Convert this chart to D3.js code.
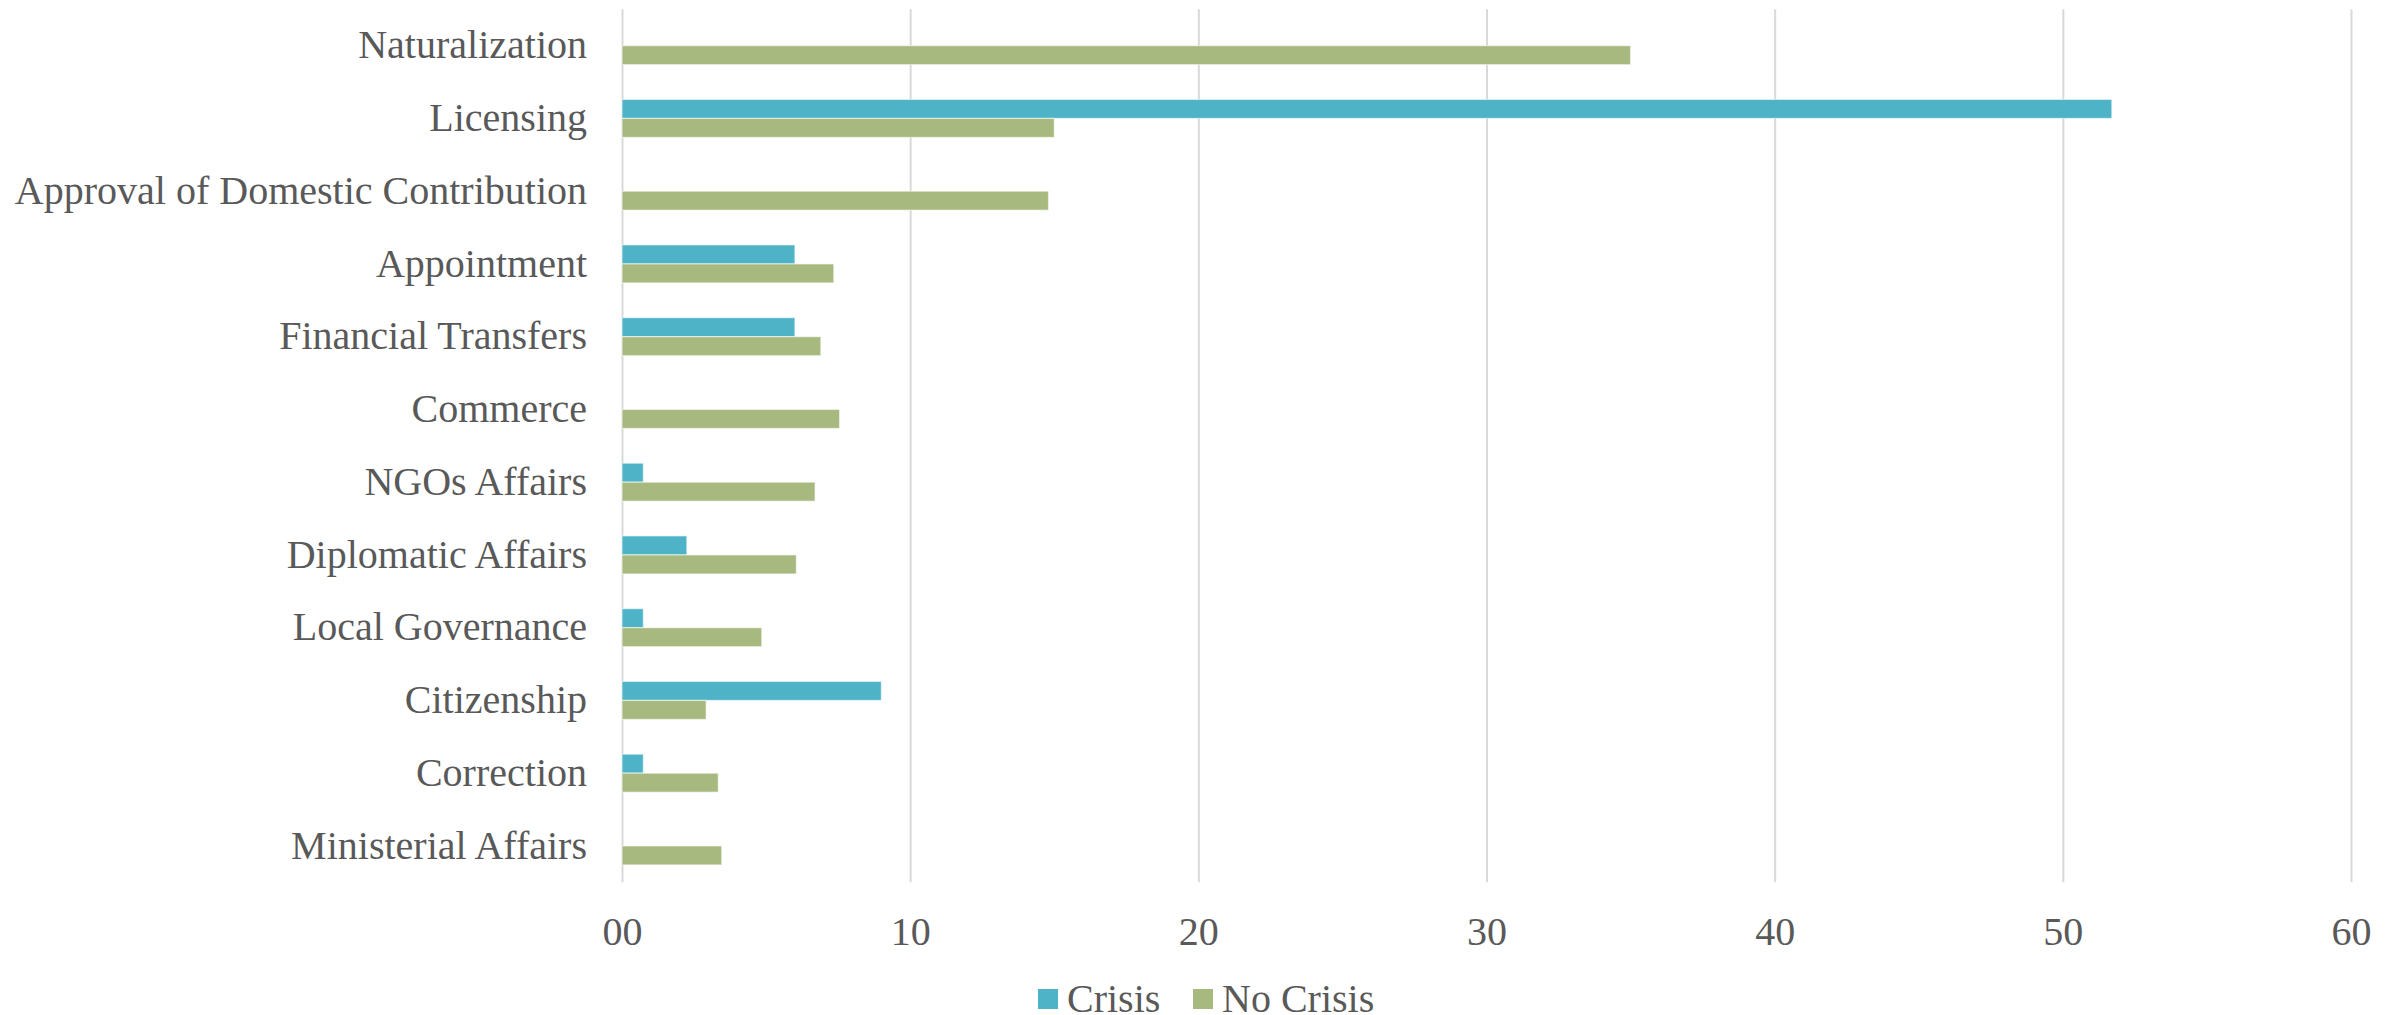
<!DOCTYPE html>
<html>
<head>
<meta charset="utf-8">
<script src="https://cdn.jsdelivr.net/npm/d3@7"></script>
<style>
  html, body { margin: 0; padding: 0; background: #ffffff; }
  svg { display: block; }
</style>
</head>
<body>
<svg id="chart" width="2396" height="1015"></svg>
<script>
const categories = [
  "Naturalization", "Licensing", "Approval of Domestic Contribution", "Appointment",
  "Financial Transfers", "Commerce", "NGOs Affairs", "Diplomatic Affairs",
  "Local Governance", "Citizenship", "Correction", "Ministerial Affairs"
];
const seriesNames = ["Crisis", "No Crisis"];
const crisisValues = [0, 51.7, 0, 6.0, 6.0, 0, 0.74, 2.25, 0.74, 9.0, 0.74, 0];
const noCrisisValues = [35.0, 15.0, 14.8, 7.35, 6.9, 7.55, 6.7, 6.05, 4.85, 2.92, 3.34, 3.46];
const tickValues = [0, 10, 20, 30, 40, 50, 60];
const tickLabels = ["00", "10", "20", "30", "40", "50", "60"];
const colors = ["#4FB3C8", "#A8B97F"];

const svg = d3.select("#chart");
const font = "'Liberation Serif', 'Times New Roman', serif";
const textColor = "#595959";

const x = d3.scaleLinear().domain([0, 60]).range([622, 2351]);
const y = d3.scaleBand().domain(categories).range([9.3, 882.3]);
const barH = 19;
const sub = d3.scaleBand().domain(seriesNames).range([0, 2 * barH]);
const color = d3.scaleOrdinal().domain(seriesNames).range(colors);

// gridlines + x tick labels
const xAxis = d3.axisBottom(x)
  .tickValues(tickValues)
  .tickFormat((d, i) => tickLabels[i])
  .tickSize(-(882.3 - 9.3))
  .tickPadding(34);
const gx = svg.append("g").attr("transform", "translate(0,882.3)").call(xAxis);
gx.select(".domain").remove();
gx.selectAll(".tick line").attr("stroke", "#d9d9d9").attr("stroke-width", 2);
gx.selectAll(".tick text")
  .attr("fill", textColor)
  .style("font-family", font)
  .style("font-size", "40px");

// y labels
const yAxis = d3.axisLeft(y).tickSize(0).tickPadding(35);
const gy = svg.append("g").attr("transform", "translate(622,0)").call(yAxis);
gy.select(".domain").remove();
gy.selectAll(".tick text")
  .attr("fill", textColor)
  .style("font-family", font)
  .style("font-size", "40px");

// bars
const rows = categories.map((c, i) => ({
  cat: c,
  vals: [
    { key: "Crisis", v: crisisValues[i] },
    { key: "No Crisis", v: noCrisisValues[i] }
  ]
}));

const groups = svg.append("g").selectAll("g.cat")
  .data(rows).join("g")
  .attr("class", "cat")
  .attr("transform", d => `translate(0,${y(d.cat) + y.bandwidth() / 2 - barH})`);

groups.selectAll("rect")
  .data(d => d.vals.filter(v => v.v > 0))
  .join("rect")
  .attr("x", x(0))
  .attr("y", d => sub(d.key))
  .attr("width", d => x(d.v) - x(0))
  .attr("height", sub.bandwidth())
  .attr("fill", d => color(d.key))
  .attr("stroke", "rgba(255,255,255,0.55)")
  .attr("stroke-width", 1.2);

// legend
const legendItems = [
  { key: "Crisis", sx: 1038, tx: 1067 },
  { key: "No Crisis", sx: 1193, tx: 1222 }
];
const lg = svg.append("g");
lg.selectAll("rect").data(legendItems).join("rect")
  .attr("x", d => d.sx).attr("y", 989)
  .attr("width", 20).attr("height", 20)
  .attr("fill", d => color(d.key));
lg.selectAll("text").data(legendItems).join("text")
  .attr("x", d => d.tx).attr("y", 1011.5)
  .attr("fill", textColor)
  .style("font-family", font)
  .style("font-size", "40px")
  .text(d => d.key);
</script>
</body>
</html>
